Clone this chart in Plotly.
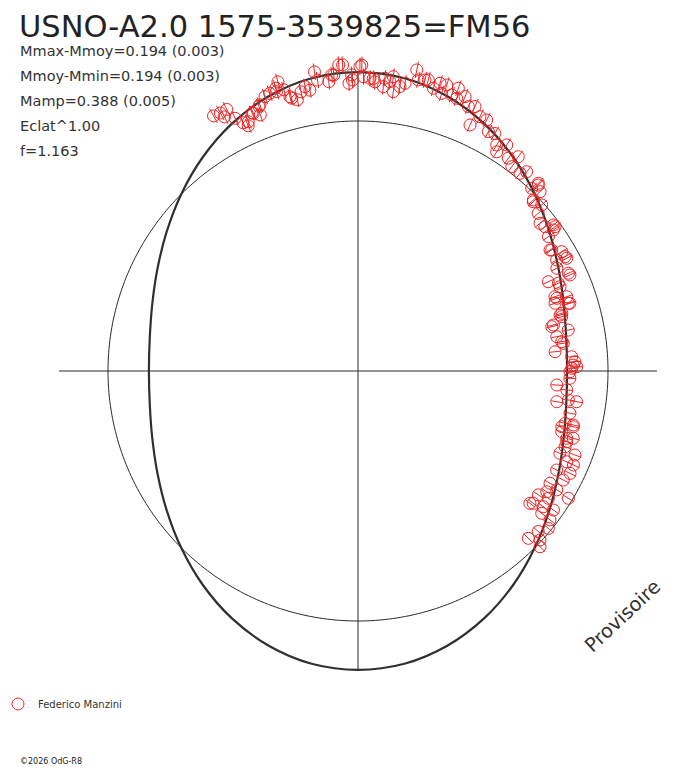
import numpy as np
import plotly.graph_objects as go

# light curve folded on phase; magnitudes relative to mean (Mmoy)
TITLE = "USNO-A2.0 1575-3539825=FM56"
STATS = ["Mmax-Mmoy=0.194 (0.003)", "Mmoy-Mmin=0.194 (0.003)",
         "Mamp=0.388 (0.005)", "Eclat^1.00", "f=1.163"]
OBSERVER = "Federico Manzini"
COPYRIGHT = "©2026 OdG-R8"
MMAX_MMOY = 0.194
EXPONENT = 1.00

PHASE = [
    0.918, 0.922, 0.926, 0.923, 0.928, 0.931, 0.933, 0.938, 0.942, 0.943,
    0.948, 0.951, 0.957, 0.955, 0.959, 0.962, 0.965, 0.968, 0.973, 0.977,
    0.978, 0.984, 0.987, 0.990, 0.992, 0.995, 0.997, 0.002, 0.003, 0.0065,
    0.0093, 0.0141, 0.0175, 0.020,
    0.934, 0.9386, 0.9438, 0.9707, 0.9859, 0.9966, 0.9549, 0.9613,
    0.001, 0.0083, 0.0146, 0.019, 0.0233, 0.0258, 0.0307, 0.0325, 0.036, 0.0377,
    0.0415, 0.0442, 0.0479, 0.0466, 0.0521, 0.0543, 0.0553, 0.0592, 0.0629, 0.0663,
    0.068, 0.0712, 0.0754, 0.0794, 0.0832, 0.0876, 0.0926, 0.0898, 0.0979, 0.1022,
    0.1027, 0.1118, 0.1093, 0.1218, 0.121, 0.127, 0.1262,
    0.1225, 0.1278, 0.133, 0.1356, 0.1415, 0.1454, 0.1494, 0.1505, 0.1605, 0.1657,
    0.1689, 0.1712, 0.1741, 0.1823, 0.1802, 0.1871, 0.1942, 0.1956, 0.2008, 0.2061,
    0.1478, 0.1522, 0.1611, 0.1697, 0.1808, 0.1843, 0.1926, 0.2085, 0.2142, 0.2287,
    0.2456, 0.2505,
    0.1973, 0.2004, 0.207, 0.2132, 0.2194, 0.2228, 0.2273, 0.2345, 0.2394, 0.2432,
    0.2469, 0.248, 0.2555, 0.2612, 0.2644, 0.2744, 0.2718, 0.2722, 0.2813, 0.2925,
    0.2903, 0.2996, 0.2982, 0.3058,
    0.2894, 0.2891, 0.2961, 0.302, 0.3116, 0.3088, 0.3153, 0.3155, 0.3236, 0.3216,
    0.3277, 0.3342, 0.3406, 0.3358, 0.3458, 0.3438, 0.3366, 0.3529, 0.3506, 0.3484,
    0.3549, 0.355, 0.3658, 0.36, 0.3736, 0.3691, 0.3722, 0.3544,
]
DMAG = [
    -0.173, -0.170, -0.171, -0.150, -0.127, -0.098, -0.078, -0.119, -0.100, -0.133,
    -0.160, -0.166, -0.198, -0.178, -0.164, -0.126, -0.115, -0.142, -0.142, -0.206,
    -0.175, -0.164, -0.187, -0.222, -0.221, -0.153, -0.165, -0.219, -0.177, -0.172,
    -0.160, -0.144, -0.165, -0.129,
    -0.093, -0.116, -0.137, -0.158, -0.188, -0.184, -0.165, -0.133,
    -0.214, -0.172, -0.176, -0.185, -0.152, -0.167, -0.222, -0.188, -0.193, -0.196,
    -0.171, -0.195, -0.196, -0.161, -0.167, -0.198, -0.161, -0.178, -0.148, -0.158,
    -0.085, -0.131, -0.131, -0.094, -0.100, -0.064, -0.086, -0.040, -0.045, -0.074,
    -0.025, -0.047, -0.024, -0.044, -0.009, 0.022, -0.024,
    -0.038, 0.028, 0.010, 0.047, 0.070, 0.062, 0.025, 0.040, 0.105, 0.062,
    0.102, 0.057, 0.120, 0.078, 0.188, 0.144, 0.181, 0.131, 0.127, 0.180,
    0.027, 0.076, 0.098, 0.060, 0.081, 0.145, 0.187, 0.185, 0.249, 0.204,
    0.162, 0.179,
    0.198, 0.134, 0.191, 0.238, 0.168, 0.233, 0.211, 0.253, 0.168, 0.153,
    0.145, 0.170, 0.179, 0.246, 0.191, 0.236, 0.177, 0.135, 0.158, 0.183,
    0.127, 0.142, 0.112, 0.136,
    0.171, 0.129, 0.176, 0.137, 0.149, 0.078, 0.102, 0.067, 0.129, 0.065,
    0.079, 0.127, 0.119, 0.083, 0.145, 0.095, 0.018, 0.141, 0.092, 0.045,
    0.079, 0.031, 0.038, 0.013, 0.050, 0.007, -0.013, 0.154,
]
ERR = 0.03  # radial error bar, mag
assert len(PHASE) == len(DMAG)

# fitted curve, sampled every 0.025 in phase
CURVE_PHASE = [
    0.000, 0.025, 0.050, 0.075, 0.100, 0.125, 0.150, 0.175, 0.200, 0.225,
    0.250, 0.275, 0.300, 0.325, 0.350, 0.375, 0.400, 0.425, 0.450, 0.475,
    0.500, 0.525, 0.550, 0.575, 0.600, 0.625, 0.650, 0.675, 0.700, 0.725,
    0.750, 0.775, 0.800, 0.825, 0.850, 0.875, 0.900, 0.925, 0.950, 0.975, 1.000,
]
CURVE_DMAG = [
    -0.194, -0.185, -0.157, -0.114, -0.060, 0.000, 0.060, 0.114, 0.157, 0.185,
    0.194, 0.185, 0.157, 0.114, 0.060, 0.000, -0.060, -0.114, -0.157, -0.185,
    -0.194, -0.185, -0.157, -0.114, -0.060, 0.000, 0.060, 0.114, 0.157, 0.185,
    0.194, 0.185, 0.157, 0.114, 0.060, 0.000, -0.060, -0.114, -0.157, -0.185,
    -0.194,
]

RED = "#ee2424"
INK = "#2a2a2a"
FONT = "DejaVu Sans"


def flux(dm):
    # radius = brightness relative to the mean, raised to Eclat exponent
    return np.power(10.0, -0.4 * np.asarray(dm, dtype=float)) ** EXPONENT


r_max = float(flux(-MMAX_MMOY))
theta = np.asarray(PHASE) * 360.0
r_pts = flux(DMAG)

# radial error bars
eb_r, eb_t = [], []
for t, d in zip(theta, DMAG):
    eb_r += [float(flux(d + ERR)), float(flux(d - ERR)), None]
    eb_t += [t, t, None]

fig = go.Figure()

# reference circle at mean brightness
circ_t = np.linspace(0, 360, 361)
fig.add_trace(go.Scatterpolar(r=np.ones_like(circ_t), theta=circ_t, mode="lines",
                              line=dict(color=INK, width=1), showlegend=False,
                              hoverinfo="skip"))
# crosshair
fig.add_trace(go.Scatterpolar(
    r=[r_max, 0, r_max, None, r_max, 0, r_max],
    theta=[0, 0, 180, None, 90, 90, 270],
    mode="lines", line=dict(color=INK, width=1), showlegend=False,
    hoverinfo="skip"))
# fitted curve
fig.add_trace(go.Scatterpolar(
    r=flux(CURVE_DMAG), theta=np.asarray(CURVE_PHASE) * 360.0, mode="lines",
    line=dict(color="#303030", width=2.2, shape="spline"), showlegend=False,
    hoverinfo="skip"))
# error bars
fig.add_trace(go.Scatterpolar(r=eb_r, theta=eb_t, mode="lines",
                              line=dict(color=RED, width=1), showlegend=False,
                              hoverinfo="skip"))
# observations
fig.add_trace(go.Scatterpolar(
    r=r_pts, theta=theta, mode="markers", name=OBSERVER,
    marker=dict(symbol="circle-open", size=12, color=RED, line=dict(width=1)),
    hovertemplate="phase=%{theta:.1f}<extra></extra>"))

# page body keeps an 8px margin, so the figure is a little smaller
W, H = 680, 760
cx, cy, rad = 350, 363, 325  # polar centre / radius in pixels
fig.update_layout(
    width=W, height=H, margin=dict(l=0, r=0, t=0, b=0),
    paper_bgcolor="white", plot_bgcolor="white",
    font=dict(family=FONT, color=INK),
    polar=dict(
        domain=dict(x=[(cx - rad) / W, (cx + rad) / W],
                    y=[(H - cy - rad) / H, (H - cy + rad) / H]),
        bgcolor="white",
        radialaxis=dict(visible=False, range=[0, 1.3]),
        angularaxis=dict(visible=False, rotation=90, direction="clockwise"),
    ),
    showlegend=True,
    legend=dict(x=0, xanchor="left", y=(H - 696) / H, yanchor="middle",
                font=dict(size=10, color="#333333"), itemwidth=30,
                indentation=-10, bgcolor="rgba(0,0,0,0)"),
)

fig.add_annotation(text=TITLE, xref="paper", yref="paper", x=10 / W, y=1,
                   xanchor="left", yanchor="top", borderpad=0, showarrow=False,
                   font=dict(size=30.5, color="#222222"))
for i, s in enumerate(STATS):
    fig.add_annotation(text=s, xref="paper", yref="paper", x=10 / W,
                       y=1 - (43 + 25 * i) / H, xanchor="left", yanchor="middle",
                       showarrow=False, font=dict(size=14.5, color="#333333"))
fig.add_annotation(text="Provisoire", xref="paper", yref="paper", x=614 / W,
                   y=1 - 608 / H, xanchor="center", yanchor="middle",
                   textangle=-43, showarrow=False,
                   font=dict(size=19.5, color="#333333"))
fig.add_annotation(text=COPYRIGHT, xref="paper", yref="paper", x=10 / W,
                   y=0, xanchor="left", yanchor="bottom",
                   showarrow=False, font=dict(size=8, color="#222222"))

fig.write_html("out.html")
